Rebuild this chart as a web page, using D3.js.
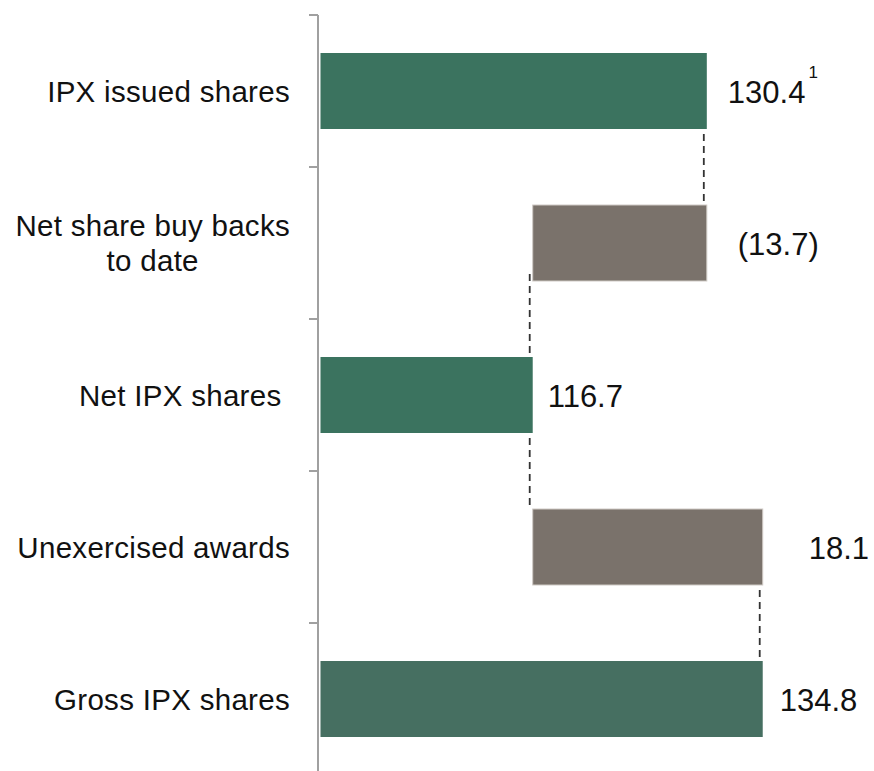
<!DOCTYPE html>
<html>
<head>
<meta charset="utf-8">
<script src="https://cdn.jsdelivr.net/npm/d3@7"></script>
<style>
  body { margin: 0; background: #fff; }
  text { font-family: "Liberation Sans", Arial, sans-serif; fill: #111; }
</style>
</head>
<body>
<div id="chart"></div>
<script>
// data
var categories = ["IPX issued shares", "Net share buy backs\nto date", "Net IPX shares ", "Unexercised awards", "Gross IPX shares"];
var values = [130.4, -13.7, 116.7, 18.1, 134.8];
var kinds = ["total", "delta", "total", "delta", "total"];
var valueLabels = ["130.4", "(13.7)", "116.7", "18.1", "134.8"];
var footnotes = ["1", "", "", "", ""];
var xDomain = [100, 140];

var width = 874, height = 771;
var svg = d3.select("#chart")
  .append("svg")
  .attr("width", width)
  .attr("height", height);

var x = d3.scaleLinear().domain(xDomain).range([320.5, 828.8]);
var y = d3.scaleBand()
  .domain(categories)
  .range([15, 775])
  .paddingInner(0.5)
  .paddingOuter(0.25);

// build start/end of each bar (waterfall)
var rows = [];
var running = xDomain[0];
categories.forEach(function(c, i) {
  var s, e;
  if (kinds[i] == "total") {
    s = xDomain[0]; e = values[i]; running = values[i];
  } else {
    s = running; e = running + values[i]; running = e;
  }
  rows.push({cat: c, start: Math.min(s, e), end: Math.max(s, e), last: e, kind: kinds[i],
             label: valueLabels[i], note: footnotes[i], i: i});
});

var colors = {total: ["#3b735f", "#3f7260", "#3b735f", "", "#466f61"], delta: "#7a726b"};

// connectors
for (var i = 0; i < rows.length - 1; i++) {
  var cx = x(rows[i].last) - 3;
  svg.append("line")
    .attr("x1", cx).attr("x2", cx)
    .attr("y1", y(rows[i].cat) + y.bandwidth() - 7)
    .attr("y2", y(rows[i + 1].cat))
    .attr("stroke", "#333")
    .attr("stroke-width", 1.8)
    .attr("stroke-dasharray", "7,5");
}

// bars
svg.append("g")
  .selectAll("rect")
  .data(rows)
  .enter()
  .append("rect")
  .attr("x", function(d) { return x(d.start); })
  .attr("y", function(d) { return y(d.cat); })
  .attr("width", function(d) { return x(d.end) - x(d.start); })
  .attr("height", y.bandwidth())
  .attr("fill", function(d) { return d.kind == "total" ? colors.total[d.i] : colors.delta; })
  .attr("stroke", function(d) { return d.kind == "total" ? "none" : "#cfcac5"; })
  .attr("stroke-width", 1);

// axis (left, ticks between categories)
var axisG = svg.append("g");
axisG.append("line")
  .attr("x1", 318).attr("x2", 318)
  .attr("y1", 15).attr("y2", height)
  .attr("stroke", "#a0a0a0").attr("stroke-width", 2);
var tickYs = categories.map(function(c) { return y(c) - y.step() * 0.25; });
axisG.selectAll("line.tick")
  .data(tickYs)
  .enter()
  .append("line")
  .attr("class", "tick")
  .attr("x1", 309).attr("x2", 318)
  .attr("y1", function(d) { return d; })
  .attr("y2", function(d) { return d; })
  .attr("stroke", "#a0a0a0").attr("stroke-width", 2);

// category labels
categories.forEach(function(c) {
  var lines = c.split("\n");
  var cy = y(c) + y.bandwidth() / 2;
  var t = svg.append("text")
    .attr("font-size", 29.5)
    .attr("letter-spacing", 0.3)
    .style("white-space", "pre");
  lines.forEach(function(l, k) {
    t.append("tspan").text(l)
      .attr("y", cy + 10.5 + (k - (lines.length - 1) / 2) * 35);
  });
  if (lines.length == 1) {
    t.attr("text-anchor", "end").selectAll("tspan").attr("x", 290);
  } else {
    var maxW = 0;
    t.selectAll("tspan").each(function() { maxW = Math.max(maxW, this.getComputedTextLength()); });
    t.attr("text-anchor", "middle").selectAll("tspan").attr("x", 290 - maxW / 2);
  }
});

// value labels, nudged like the original
var labelGap = [21, 31, 15, 46, 17];
rows.forEach(function(d, i) {
  var t = svg.append("text")
    .attr("font-size", 31)
    .attr("x", x(d.end) + labelGap[i])
    .attr("y", y(d.cat) + y.bandwidth() / 2 + 11.5);
  t.append("tspan").text(d.label);
  if (d.note) {
    t.append("tspan").text(d.note)
      .attr("font-size", 17)
      .attr("dx", 3)
      .attr("dy", -25);
  }
});
</script>
</body>
</html>
